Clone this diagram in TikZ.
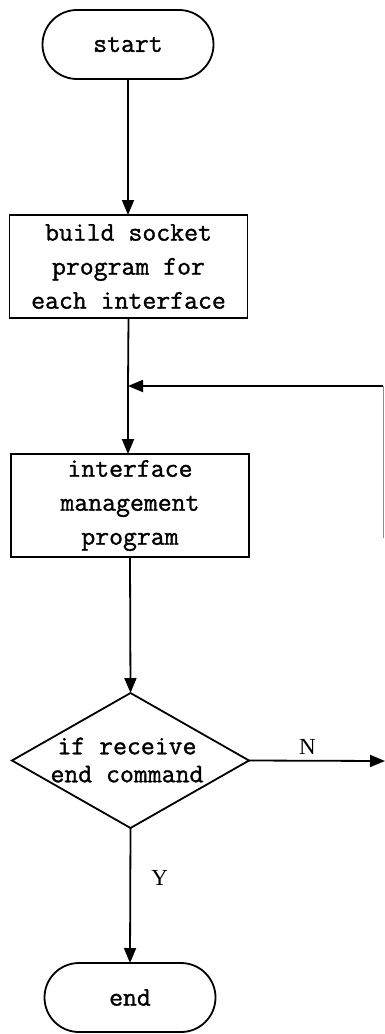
\documentclass[tikz,border=0pt]{standalone}
\usepackage{fontspec}
\usetikzlibrary{shapes.misc,shapes.geometric,arrows.meta}
\newfontfamily\flowmono[FakeBold=1.2]{Latin Modern Mono}
\newfontfamily\flowserif{Liberation Serif}
\begin{document}
\begin{tikzpicture}[x=1pt,y=-1pt,
  line width=1.8pt,
  every node/.style={inner sep=0pt,outer sep=0pt},
  terminal/.style={rounded rectangle,draw,minimum width=171pt,minimum height=69pt,
    font=\flowmono\fontsize{27}{34}\selectfont},
  process/.style={rectangle,draw,minimum width=238pt,minimum height=103pt,align=center,
    font=\flowmono\fontsize{27}{34}\selectfont},
  decision/.style={diamond,draw,minimum width=237pt,minimum height=135pt},
  dectext/.style={align=center,font=\flowmono\fontsize{27}{28}\selectfont},
  branch/.style={font=\flowserif\fontsize{23}{23}\selectfont},
  flow/.style={-{Triangle[length=15pt,width=12pt]}},
  wire/.style={line width=0.9pt,draw=black!45}]
\useasboundingbox (0,0) rectangle (385,1034);

% nodes
\node[terminal] (start) at (128,44.5) {start};
\node[process] (build) at (128.5,266.5) {build socket\\program for\\each interface};
\node[process] (manage) at (130,505.5) {interface\\management\\program};
\node[decision] (check) at (130.5,760.5) {};
\node[dectext] (checktext) at (127,760) {if receive\\end command};
\node[terminal] (finish) at (130,997.5) {end};

% loop-back junction and open ends
\coordinate (join) at (128,386);
\coordinate (loopin) at (383,386);
\coordinate (looptail) at (383,538);
\coordinate (noexit) at (385,761);

% connectors
\draw[flow] (start.south) -- (build.north -| start.south);
\draw (build.south) -- (join);
\draw[flow] (join) -- (manage.north -| join);
\draw[flow] (manage.south) -- (check.north);
\draw[flow] (check.south) -- node[branch,pos=0.37,right=21pt] (ylabel) {Y} (finish.north);
\draw[flow] (check.east) -- node[branch,above=6pt,pos=0.43] (nlabel) {N} (noexit);
\draw[wire] (looptail) -- (loopin);
\draw[flow] (loopin) -- (join);
\end{tikzpicture}
\end{document}
